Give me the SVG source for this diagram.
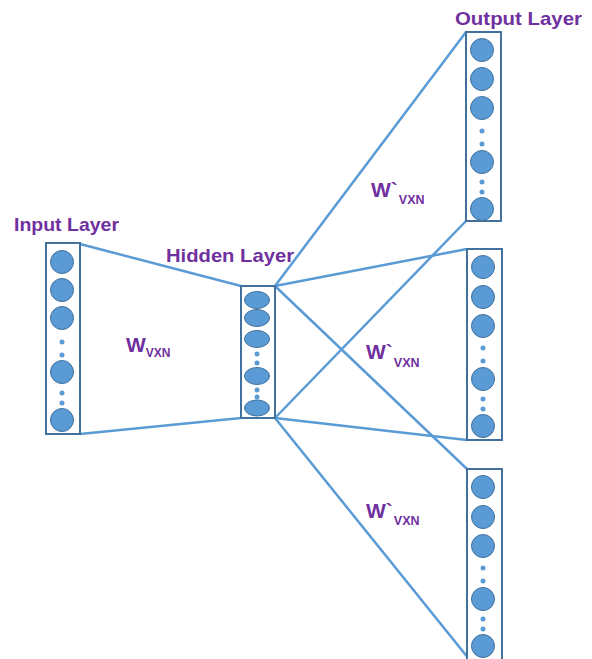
<svg xmlns="http://www.w3.org/2000/svg" width="592" height="659" viewBox="0 0 592 659">
<style>
.lbl{font-family:"Liberation Sans",Arial,sans-serif;font-weight:bold;fill:#7030A0}
.box{fill:#fff;stroke:#41719C;stroke-width:2}
.n{fill:#5B9BD5;stroke:#41719C;stroke-width:1}
.d{fill:#5B9BD5}
.c{stroke:#5B9BD5;stroke-width:2.5;fill:none}
</style>
<rect width="592" height="659" fill="#fff"/>
<g id="connectors">
<line class="c" x1="80" y1="244" x2="241" y2="286"/>
<line class="c" x1="80" y1="434" x2="241" y2="418"/>
<line class="c" x1="275" y1="286" x2="466" y2="32"/>
<line class="c" x1="275" y1="418" x2="466" y2="221"/>
<line class="c" x1="275" y1="286" x2="467" y2="249"/>
<line class="c" x1="275" y1="418" x2="467" y2="440"/>
<line class="c" x1="275" y1="286" x2="467" y2="469"/>
<line class="c" x1="275" y1="418" x2="469" y2="659"/>
</g>
<g id="input-layer">
<rect class="box" x="46" y="243" width="34" height="191"/>
<circle class="n" cx="62" cy="262" r="11.5"/>
<circle class="n" cx="62" cy="290" r="11.5"/>
<circle class="n" cx="62" cy="318" r="11.5"/>
<circle class="d" cx="62" cy="342" r="2.5"/>
<circle class="d" cx="62" cy="355" r="2.5"/>
<circle class="n" cx="62" cy="372" r="11.5"/>
<circle class="d" cx="62" cy="393" r="2.5"/>
<circle class="d" cx="62" cy="403" r="2.5"/>
<circle class="n" cx="62" cy="420" r="11.5"/>
<text class="lbl" x="14" y="231" font-size="19" textLength="105" lengthAdjust="spacingAndGlyphs">Input Layer</text>
</g>
<g id="hidden-layer">
<rect class="box" x="241" y="286" width="34" height="132"/>
<ellipse class="n" cx="257" cy="300" rx="12.5" ry="8.5"/>
<ellipse class="n" cx="257" cy="318" rx="12.5" ry="8.5"/>
<ellipse class="n" cx="257" cy="339" rx="12.5" ry="8.5"/>
<circle class="d" cx="257" cy="354" r="2.5"/>
<circle class="d" cx="257" cy="363" r="2.5"/>
<ellipse class="n" cx="257" cy="376" rx="12.5" ry="8.5"/>
<circle class="d" cx="257" cy="390" r="2.5"/>
<circle class="d" cx="257" cy="397" r="2.5"/>
<ellipse class="n" cx="257" cy="408" rx="12.5" ry="8"/>
<text class="lbl" x="166" y="262" font-size="19" textLength="128" lengthAdjust="spacingAndGlyphs">Hidden  Layer</text>
</g>
<g id="output-layer-1">
<rect class="box" x="466" y="32" width="35" height="189"/>
<circle class="n" cx="482" cy="50" r="11.5"/>
<circle class="n" cx="482" cy="79" r="11.5"/>
<circle class="n" cx="482" cy="108" r="11.5"/>
<circle class="d" cx="482" cy="131" r="2.5"/>
<circle class="d" cx="482" cy="144" r="2.5"/>
<circle class="n" cx="482" cy="162" r="11.5"/>
<circle class="d" cx="482" cy="182" r="2.5"/>
<circle class="d" cx="482" cy="192" r="2.5"/>
<circle class="n" cx="482" cy="209" r="11.5"/>
<text class="lbl" x="455" y="25" font-size="19" textLength="127" lengthAdjust="spacingAndGlyphs">Output  Layer</text>
</g>
<g id="output-layer-2">
<rect class="box" x="467" y="249" width="35" height="191"/>
<circle class="n" cx="483" cy="267" r="11.5"/>
<circle class="n" cx="483" cy="297" r="11.5"/>
<circle class="n" cx="483" cy="326" r="11.5"/>
<circle class="d" cx="483" cy="348" r="2.5"/>
<circle class="d" cx="483" cy="361" r="2.5"/>
<circle class="n" cx="483" cy="379" r="11.5"/>
<circle class="d" cx="483" cy="399" r="2.5"/>
<circle class="d" cx="483" cy="409" r="2.5"/>
<circle class="n" cx="483" cy="426" r="11.5"/>
</g>
<g id="output-layer-3">
<rect class="box" x="467" y="469" width="35" height="192"/>
<circle class="n" cx="483" cy="487" r="11.5"/>
<circle class="n" cx="483" cy="517" r="11.5"/>
<circle class="n" cx="483" cy="546" r="11.5"/>
<circle class="d" cx="483" cy="568" r="2.5"/>
<circle class="d" cx="483" cy="581" r="2.5"/>
<circle class="n" cx="483" cy="599" r="11.5"/>
<circle class="d" cx="483" cy="619" r="2.5"/>
<circle class="d" cx="483" cy="629" r="2.5"/>
<circle class="n" cx="483" cy="646" r="11.5"/>
</g>
<g id="weight-labels">
<text class="lbl" x="126" y="352" font-size="21">W<tspan font-size="12" dy="5">VXN</tspan></text>
<text class="lbl" x="371" y="197" font-size="21">W`<tspan font-size="12.5" dx="1" dy="7">VXN</tspan></text>
<text class="lbl" x="366" y="359" font-size="21">W`<tspan font-size="12.5" dx="1" dy="8">VXN</tspan></text>
<text class="lbl" x="366" y="518" font-size="21">W`<tspan font-size="12.5" dx="1" dy="7">VXN</tspan></text>
</g>
</svg>
